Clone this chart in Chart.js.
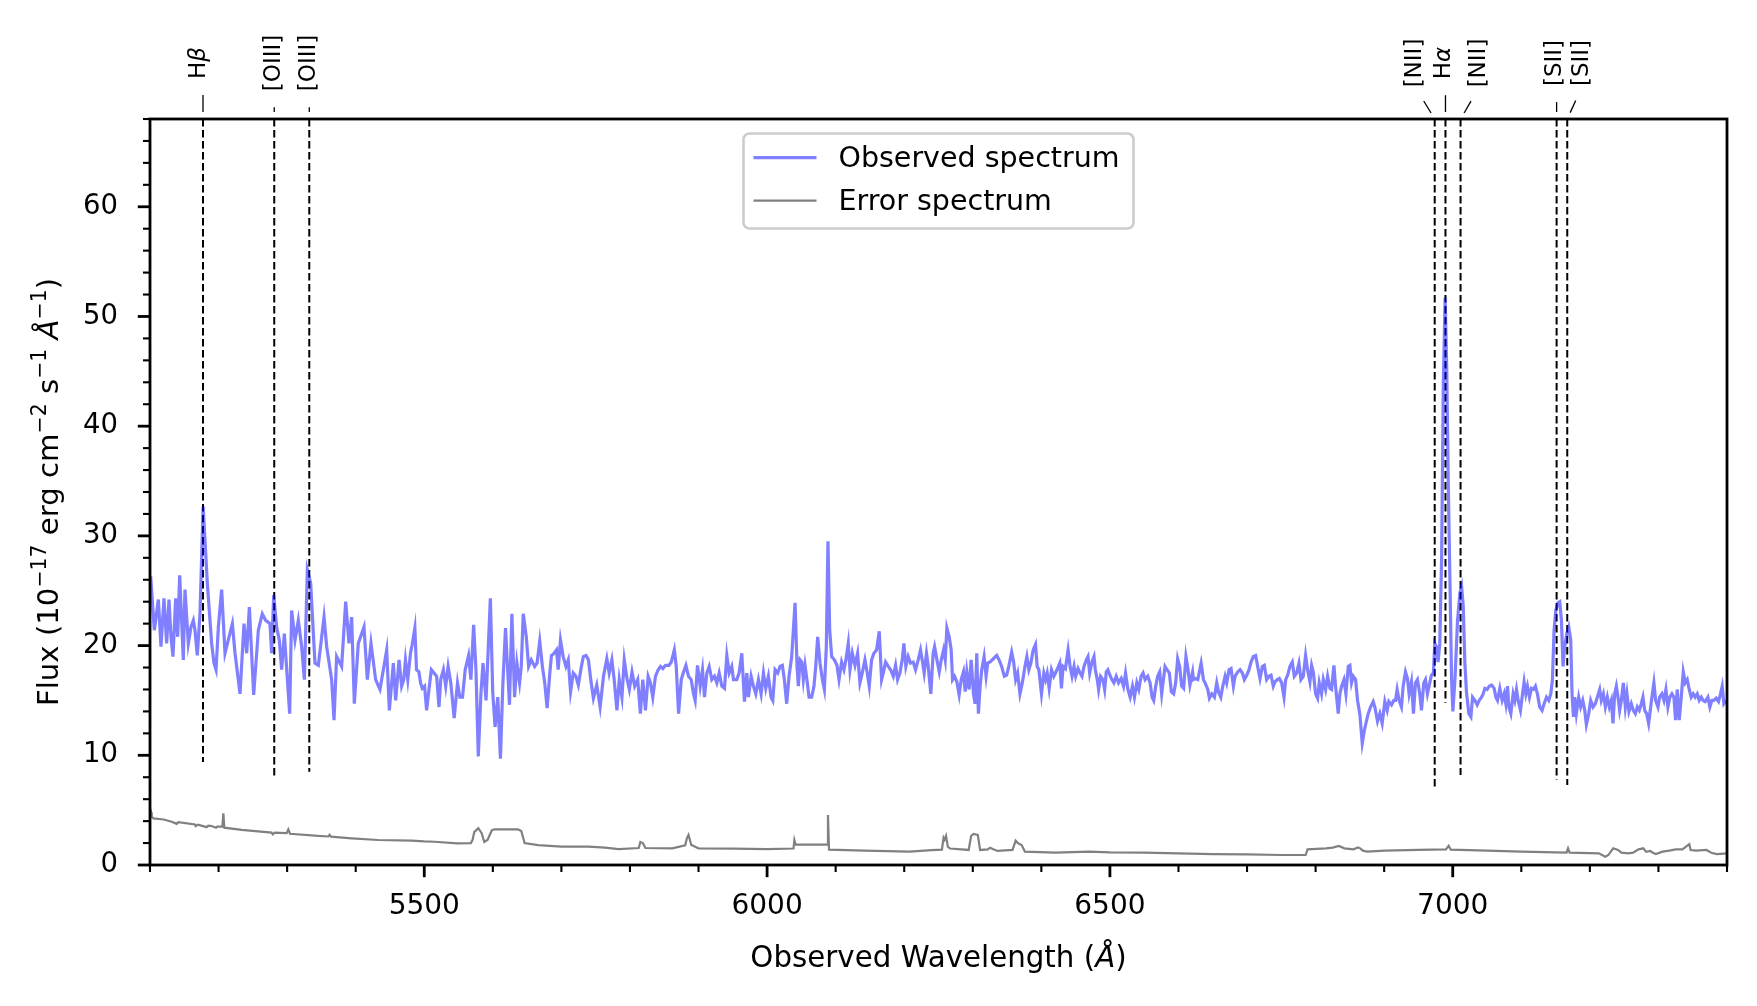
<!DOCTYPE html>
<html>
<head>
<meta charset="utf-8">
<script src="https://cdn.jsdelivr.net/npm/chart.js@4.4.1/dist/chart.umd.min.js"></script>
<style>
  html, body { margin: 0; padding: 0; background: #fff; }
  canvas { display: block; }
</style>
</head>
<body>
<canvas id="spec" width="1757" height="1006" style="width:1757px;height:1006px"></canvas>
<script>
// observed spectrum (wavelength in A, flux in 1e-17 erg/cm2/s/A)
var obsWave = [
  5101.0, 5106.3, 5112.2, 5116.0, 5120.4, 5124.3, 5127.7, 5130.6, 5133.5, 5137.4,
  5140.4, 5143.3, 5148.6, 5151.0, 5155.9, 5159.8, 5163.2, 5165.6, 5169.0, 5172.9,
  5177.5, 5183.6, 5189.9, 5193.3, 5196.3, 5199.7, 5204.5, 5209.4, 5220.1, 5224.0,
  5231.3, 5237.1, 5241.0, 5244.9, 5251.2, 5258.0, 5263.8, 5268.7, 5275.0, 5277.4,
  5280.4, 5284.7, 5288.6, 5292.0, 5295.9, 5303.7, 5306.6, 5311.5, 5316.3, 5321.2,
  5325.1, 5329.5, 5334.3, 5340.6, 5345.5, 5353.8, 5357.7, 5364.9, 5368.4, 5372.2,
  5379.5, 5385.4, 5390.2, 5394.1, 5398.0, 5403.8, 5412.1, 5417.0, 5422.3, 5429.1,
  5435.4, 5445.2, 5449.1, 5454.9, 5458.3, 5463.2, 5467.0,
  5470.1, 5472.6, 5476.0, 5479.9, 5482.4, 5486.3, 5488.7, 5492.2, 5494.6, 5497.1,
  5500.5, 5503.4, 5506.9, 5510.3, 5514.2, 5518.1, 5521.5, 5524.0, 5527.9, 5531.3,
  5534.8, 5538.7, 5543.6, 5548.5, 5551.9, 5555.8, 5559.7, 5564.6, 5568.0, 5572.0,
  5575.4, 5578.8, 5582.7, 5585.7, 5590.1, 5596.4, 5599.9, 5603.3, 5607.2, 5611.1,
  5614.5, 5618.5, 5624.3, 5627.8, 5631.7, 5635.1, 5639.0, 5641.5, 5644.4, 5648.8,
  5652.2, 5656.1, 5661.0, 5664.5, 5668.4, 5672.3, 5675.7, 5679.2, 5683.1, 5685.5,
  5689.4, 5692.9, 5695.3, 5698.7, 5702.6, 5706.6, 5710.0, 5713.4, 5717.3, 5721.2,
  5724.7, 5728.6, 5732.0, 5735.9, 5739.4, 5742.8, 5746.7, 5751.6, 5756.5, 5761.4,
  5766.3, 5769.7, 5773.6, 5777.0, 5781.0, 5784.4, 5788.3, 5791.7, 5795.6, 5799.1,
  5803.0, 5806.9, 5811.3, 5815.2, 5818.7, 5822.6, 5826.5, 5829.9, 5833.3, 5837.2,
  5841.2, 5844.6, 5848.0, 5851.9, 5856.8, 5860.3, 5864.7,
  5867.5, 5870.9, 5874.8, 5878.2, 5881.6, 5885.4, 5889.3, 5892.7, 5895.1, 5898.5,
  5902.4, 5905.8, 5908.7, 5912.1, 5915.5, 5919.4, 5923.3, 5926.7, 5930.1, 5934.0,
  5937.9, 5941.3, 5944.7, 5948.5, 5951.0, 5955.8, 5959.2, 5963.1, 5967.0, 5970.4,
  5972.8, 5976.7, 5980.1, 5983.5, 5987.4, 5991.3, 5994.7, 5998.1, 6001.9, 6005.8,
  6008.3, 6011.7, 6015.5, 6018.9, 6022.3, 6025.2, 6028.6, 6032.0, 6035.9, 6038.3,
  6040.8, 6043.7, 6045.6, 6048.1, 6050.5, 6052.9, 6055.3, 6058.7, 6061.2, 6065.0,
  6068.4, 6070.9, 6073.8, 6077.2, 6080.6, 6083.5, 6086.4, 6088.8, 6091.3, 6094.2,
  6098.1, 6101.9, 6104.9, 6108.7, 6112.1, 6115.0, 6118.4, 6120.9, 6124.3, 6128.2,
  6132.0, 6135.4, 6138.8, 6142.7, 6146.1, 6149.0, 6152.4, 6155.8, 6159.7, 6163.6,
  6167.0, 6169.4, 6172.8, 6176.7, 6180.1, 6184.0, 6187.4, 6190.3, 6193.7, 6197.1,
  6199.5, 6202.4, 6205.8, 6209.2, 6213.1, 6216.5, 6220.4, 6223.8, 6226.7, 6229.1,
  6232.5, 6234.9, 6238.8, 6242.2,
  6244.3, 6247.7, 6251.1, 6254.0, 6257.4, 6259.8, 6262.2, 6265.6, 6268.5, 6270.5,
  6273.4, 6276.8, 6280.1, 6283.1, 6286.4, 6288.9, 6291.3, 6294.7, 6297.6, 6301.0,
  6303.4, 6305.8, 6308.2, 6310.7, 6313.1, 6316.5, 6319.4, 6321.8, 6325.2, 6330.0,
  6334.9, 6338.3, 6342.1, 6346.0, 6349.4, 6352.8, 6356.7, 6359.6, 6362.5, 6365.4,
  6368.8, 6372.2, 6376.1, 6378.9, 6381.8, 6384.7, 6388.1, 6391.5, 6393.9, 6396.4,
  6400.2, 6403.6, 6406.1, 6408.5, 6411.4, 6414.8, 6418.2, 6420.6, 6423.5, 6426.9,
  6429.3, 6431.7, 6435.1, 6439.0, 6441.9, 6444.8, 6447.7, 6450.1, 6453.5, 6456.4,
  6459.3, 6462.2, 6465.6, 6468.0, 6470.5, 6473.8, 6476.8, 6478.7, 6481.6, 6483.5,
  6486.4, 6489.8, 6492.3, 6494.7, 6497.1, 6500.0, 6502.9, 6505.8, 6509.2, 6512.6,
  6516.5, 6519.9, 6522.8, 6526.2, 6529.5, 6532.9, 6535.8, 6539.2, 6542.1, 6545.5,
  6548.4, 6551.3, 6555.2, 6558.6, 6561.5, 6563.9, 6566.8, 6569.7, 6572.6, 6575.5,
  6578.0, 6580.4, 6583.3, 6586.7, 6589.6, 6593.0, 6595.9, 6598.8, 6601.7, 6604.6,
  6607.5, 6610.9, 6613.3, 6616.7, 6620.6,
  6621.8, 6624.3, 6628.2, 6630.1, 6633.0, 6636.4, 6638.8, 6642.7, 6645.1, 6648.5,
  6652.4, 6655.8, 6658.3, 6661.7, 6664.6, 6668.0, 6670.4, 6673.8, 6676.7, 6680.1,
  6682.5, 6686.4, 6689.8, 6693.2, 6696.1, 6699.5, 6702.9, 6705.8, 6709.2, 6712.6,
  6715.5, 6718.9, 6722.3, 6725.2, 6728.6, 6732.0, 6735.0, 6738.3, 6740.8, 6744.2,
  6747.1, 6750.5, 6753.9, 6756.3, 6759.2, 6762.6, 6766.0, 6768.9, 6772.3, 6775.7,
  6778.6, 6782.0, 6785.4, 6788.3, 6791.7, 6794.2, 6796.6, 6800.0, 6802.9, 6805.3,
  6808.7, 6811.2, 6814.6, 6817.5, 6820.9, 6823.3, 6826.7, 6829.1, 6833.0, 6835.4,
  6837.9, 6841.3, 6844.2, 6847.6, 6850.0, 6852.4, 6854.9, 6858.3, 6861.2, 6864.6,
  6868.0, 6870.9, 6873.3, 6876.7, 6880.1, 6884.0, 6886.4, 6890.3, 6893.7, 6897.1,
  6901.0, 6904.4, 6906.8, 6910.7, 6914.1, 6916.5, 6918.9, 6921.8, 6925.2, 6927.7,
  6931.1, 6934.0, 6936.4, 6939.8, 6942.7, 6945.6, 6948.5, 6951.9, 6954.4, 6957.8,
  6960.2, 6963.1, 6966.5, 6968.9, 6971.8, 6973.8, 6976.2, 6978.6, 6981.1,
  6983.8, 6986.3, 6988.9, 6991.3, 6993.4, 6995.9, 6998.3, 7000.2, 7003.2, 7007.0,
  7010.4, 7012.9, 7015.3, 7017.7, 7020.1,
  7023.5, 7026.5, 7028.9, 7032.3, 7035.7, 7038.6, 7042.0, 7044.4, 7046.8, 7050.2,
  7053.2, 7056.6, 7060.4, 7062.9, 7065.3, 7068.7, 7072.1, 7075.0, 7077.4, 7079.9,
  7081.8, 7084.7, 7088.1, 7090.5, 7093.0, 7095.4, 7098.8, 7101.2, 7104.1, 7106.6,
  7109.0, 7111.9, 7114.8, 7117.7, 7120.6, 7123.5, 7126.9, 7130.3, 7133.3, 7136.7,
  7140.0, 7143.0, 7145.4, 7147.8, 7150.2, 7153.6, 7156.1, 7158.5, 7160.9, 7163.3,
  7166.3, 7169.2, 7172.1, 7174.0, 7176.0, 7177.9, 7180.3, 7183.7, 7186.6, 7189.6,
  7192.5, 7194.9, 7198.3, 7201.2, 7204.6, 7208.0, 7210.9, 7214.3, 7216.7, 7219.7,
  7222.6, 7225.5, 7228.4, 7231.3, 7233.7, 7236.2, 7238.6, 7241.0, 7243.4, 7245.9,
  7248.8, 7251.7, 7254.1, 7257.0, 7260.4, 7263.3, 7266.3, 7269.2, 7272.1, 7275.0,
  7277.4, 7279.9, 7282.8, 7285.7, 7288.1, 7290.5, 7293.4, 7295.9, 7299.3, 7301.7,
  7305.1, 7308.0, 7310.9, 7313.8, 7316.7, 7319.7, 7322.6, 7325.0, 7327.4, 7330.3,
  7333.3, 7336.2, 7339.1, 7342.0, 7344.9, 7347.8, 7350.7, 7353.6, 7356.6, 7359.5,
  7362.4, 7365.3, 7368.2, 7372.1, 7375.0, 7377.9, 7380.8, 7384.2, 7387.6, 7390.5,
  7393.0, 7395.4, 7398.8
];
var obsFlux = [
  26.3, 21.4, 24.2, 19.9, 24.3, 20.2, 24.2, 20.8, 19.0, 24.3,
  20.8, 26.4, 18.7, 25.1, 20.2, 21.7, 22.3, 21.4, 19.1, 22.9,
  32.7, 25.7, 20.2, 18.4, 17.8, 21.7, 25.1, 19.3, 22.0, 19.3,
  15.6, 22.0, 19.3, 23.5, 15.5, 21.4, 22.9, 22.3, 22.0, 19.3,
  24.6, 21.7, 20.5, 17.8, 21.1, 13.8, 23.2, 20.5, 22.3, 19.9,
  16.9, 26.9, 25.7, 18.4, 18.2, 22.6, 19.9, 16.9, 13.2, 19.0,
  18.1, 24.0, 20.2, 22.6, 14.7, 20.2, 21.7, 16.9, 20.2, 16.9,
  16.0, 19.6, 14.1, 18.4, 15.0, 18.7, 16.3,
  16.9, 18.7, 16.9, 19.3, 20.1, 21.6, 17.8, 17.6, 16.6, 16.1,
  16.3, 14.1, 16.0, 17.8, 17.5, 17.2, 14.4, 16.9, 17.8, 16.3,
  18.1, 16.6, 13.4, 16.6, 15.3, 15.3, 17.8, 19.1, 16.9, 21.9,
  17.8, 9.9, 15.7, 18.4, 15.0, 24.3, 15.7, 12.6, 15.3, 9.7,
  16.3, 21.6, 14.6, 22.9, 15.3, 18.4, 16.6, 18.1, 22.9, 20.8,
  18.1, 18.7, 18.1, 18.4, 20.4, 18.1, 16.6, 14.3, 17.5, 19.1,
  19.3, 19.6, 17.8, 20.5, 19.0, 18.1, 18.7, 15.8, 17.5, 17.2,
  16.4, 17.9, 19.0, 19.1, 18.7, 16.9, 15.2, 16.4, 14.4, 17.2,
  18.8, 17.5, 18.7, 16.9, 14.1, 16.9, 15.3, 18.7, 17.0, 16.0,
  17.6, 16.3, 16.9, 13.8, 16.9, 14.1, 17.2, 16.6, 15.3, 17.2,
  17.8, 18.1, 17.9, 18.2, 18.2, 18.5, 19.6,
  18.1, 13.8, 16.9, 17.6, 18.2, 17.2, 16.9, 15.6, 15.0, 18.2,
  16.3, 17.8, 15.3, 17.5, 18.1, 16.9, 17.2, 16.6, 17.5, 16.3,
  16.1, 19.1, 17.5, 18.1, 16.9, 16.9, 17.5, 19.3, 14.9, 17.5,
  15.3, 17.2, 16.3, 15.6, 16.9, 15.6, 17.5, 16.1, 17.2, 15.3,
  15.0, 17.8, 17.5, 18.1, 18.2, 16.9, 14.7, 17.2, 19.0, 21.4,
  23.9, 18.1, 16.3, 18.7, 18.5, 16.9, 18.2, 16.6, 15.3, 15.3,
  16.3, 18.1, 20.8, 18.4, 16.9, 16.0, 19.9, 29.5, 21.4, 19.0,
  18.7, 18.2, 16.9, 18.5, 17.8, 18.7, 20.2, 17.8, 19.3, 18.2,
  19.3, 16.6, 17.5, 18.7, 17.5, 16.3, 18.7, 19.3, 19.6, 21.3,
  16.9, 17.5, 18.5, 18.1, 17.8, 17.2, 18.2, 16.9, 17.5, 18.7,
  20.2, 18.1, 19.0, 18.4, 18.5, 17.8, 18.7, 19.6, 18.5, 17.5,
  19.3, 18.2, 15.6, 19.3,
  19.9, 18.7, 17.6, 18.7, 19.6, 18.7, 21.6, 20.8, 19.6, 16.9,
  17.2, 16.7, 15.5, 16.9, 17.6, 15.8, 17.6, 16.0, 18.7, 15.6,
  14.7, 19.3, 13.8, 16.3, 17.8, 19.0, 17.2, 18.4, 18.5, 18.8,
  19.1, 18.7, 18.1, 17.2, 17.3, 18.2, 19.4, 18.5, 16.9, 17.5,
  15.6, 16.6, 18.1, 19.0, 17.8, 18.4, 19.6, 20.1, 18.1, 17.8,
  15.6, 17.5, 16.9, 17.5, 16.1, 17.8, 17.2, 17.5, 17.9, 18.4,
  16.1, 18.1, 17.9, 19.6, 18.1, 17.2, 18.1, 17.2, 17.9, 17.5,
  17.2, 18.1, 18.7, 19.0, 17.5, 18.5, 19.0, 17.8, 16.9, 16.0,
  17.2, 16.9, 16.0, 17.6, 17.8, 17.3, 16.9, 16.6, 17.2, 16.6,
  17.0, 16.3, 17.5, 16.0, 15.3, 16.3, 15.3, 16.6, 16.0, 17.2,
  17.5, 16.9, 17.2, 16.6, 15.3, 15.0, 16.3, 17.2, 17.6, 15.6,
  16.9, 18.1, 17.8, 17.5, 15.8, 15.6, 16.6, 18.8, 18.1, 16.3,
  16.1, 19.0, 18.1, 16.4, 17.6,
  16.9, 17.0, 16.9, 17.5, 18.4, 16.9, 16.6, 16.0, 15.2, 15.6,
  15.3, 16.6, 15.8, 15.3, 16.3, 17.2, 16.6, 17.8, 17.9, 16.3,
  17.2, 17.6, 17.8, 17.5, 16.9, 17.3, 17.8, 18.5, 19.0, 19.1,
  18.1, 17.0, 18.1, 18.2, 16.9, 17.2, 17.3, 16.3, 16.7, 16.9,
  17.0, 16.6, 15.3, 16.9, 17.3, 18.1, 18.5, 17.2, 17.5, 18.4,
  16.9, 17.2, 19.1, 17.8, 16.7, 18.2, 17.6, 15.6, 15.2, 16.6,
  15.6, 16.9, 16.0, 17.2, 16.1, 16.0, 18.2, 16.3, 13.8, 15.6,
  16.3, 16.9, 15.6, 18.1, 18.2, 16.6, 17.2, 16.9, 15.0, 13.7,
  11.1, 12.2, 12.9, 13.8, 14.4, 14.9, 14.4, 13.1, 13.8, 12.9,
  14.9, 14.1, 14.9, 14.6, 15.0, 15.0, 16.0, 15.0, 14.4, 16.3,
  17.6, 17.0, 15.6, 16.7, 13.8, 16.6, 16.9, 15.6, 14.1, 16.6,
  16.9, 15.6, 16.6, 17.3, 17.5, 20.2, 19.9, 18.5, 20.2,
  28.0, 44.0, 51.7, 45.0, 35.0, 26.0, 16.9, 14.0, 16.9, 22.3,
  24.8, 25.4, 23.6, 18.4, 15.7,
  13.8, 13.5, 15.3, 15.0, 14.6, 15.0, 15.3, 15.6, 16.1, 16.0,
  16.3, 16.4, 16.1, 15.3, 15.0, 16.1, 15.0, 15.6, 14.7, 16.3,
  14.4, 13.8, 15.6, 15.0, 16.0, 15.0, 14.1, 15.3, 16.7, 15.6,
  16.3, 15.3, 16.1, 16.0, 16.3, 15.6, 14.4, 14.1, 14.7, 15.3,
  15.0, 15.6, 16.9, 21.4, 23.2, 23.9, 24.0, 22.3, 18.1, 19.9,
  21.1, 21.7, 20.5, 15.6, 13.5, 15.3, 13.8, 15.3, 14.4, 15.0,
  14.1, 12.8, 13.8, 15.0, 14.4, 14.7, 15.3, 16.0, 15.0, 15.6,
  14.4, 15.3, 14.4, 15.0, 12.9, 15.6, 16.3, 15.3, 14.1, 15.0,
  16.6, 14.4, 15.6, 14.0, 14.7, 14.1, 13.8, 14.4, 14.1, 14.7,
  15.3, 14.1, 13.8, 12.9, 14.1, 15.3, 16.6, 15.0, 14.4, 15.3,
  15.6, 15.0, 16.0, 14.4, 15.3, 15.6, 15.3, 13.2, 16.0, 13.2,
  15.3, 17.6, 16.6, 16.9, 16.0, 15.3, 15.6, 15.3, 15.6, 15.0,
  15.3, 15.0, 14.9, 15.3, 14.4, 15.0, 15.0, 15.2, 14.9, 15.6,
  16.3, 14.7, 15.0
];

// error spectrum
var errWave = [
  5100.0, 5101.5, 5102.5, 5105.0, 5120.0, 5131.6, 5138.9, 5141.3, 5165.6, 5166.6,
  5170.0, 5182.6, 5185.0, 5189.9, 5196.3, 5198.0, 5205.5, 5207.0, 5208.4, 5233.7,
  5277.4, 5279.0, 5282.0, 5299.3, 5301.7, 5304.2, 5345.5, 5360.0, 5362.0, 5364.0,
  5394.1, 5433.0, 5481.6, 5500.0, 5515.0, 5548.5, 5568.0, 5570.5, 5572.9, 5578.8,
  5583.7, 5587.6, 5592.5, 5598.4, 5602.3, 5617.0, 5636.6, 5641.5, 5646.4, 5665.9,
  5700.2, 5739.4, 5763.8, 5783.4, 5812.8, 5815.2, 5818.7, 5822.6, 5861.7, 5880.6,
  5883.0, 5885.4, 5889.3, 5895.0, 5900.0, 5950.0, 6000.0, 6038.5, 6039.8, 6041.7,
  6060.0, 6087.8, 6088.8, 6090.3, 6142.0, 6208.0, 6240.0, 6255.0, 6257.4, 6259.0,
  6261.0, 6263.7, 6267.0, 6294.0, 6297.6, 6301.0, 6307.3, 6310.7, 6322.0, 6325.2,
  6330.0, 6336.0, 6358.0, 6362.5, 6366.0, 6371.2, 6376.0, 6420.0, 6470.0, 6500.0,
  6550.0, 6600.0, 6650.0, 6700.0, 6750.0, 6785.4, 6788.3, 6815.0, 6825.0, 6833.9,
  6842.0, 6854.9, 6862.0, 6865.0, 6869.0, 6875.0, 6901.0, 6950.0, 6990.0, 6994.0,
  6997.0, 7050.0, 7100.0, 7150.0, 7166.0, 7168.2, 7170.5, 7213.0, 7222.6, 7227.0,
  7234.0, 7241.0, 7246.0, 7256.0, 7263.0, 7271.0, 7278.0, 7282.0, 7288.0, 7292.0,
  7296.0, 7306.0, 7316.0, 7325.0, 7335.0, 7345.0, 7347.0, 7355.0, 7370.0, 7377.0,
  7385.0, 7400.0
];
var errFlux = [
  4.6, 4.8, 4.4, 4.25, 4.15, 3.95, 3.75, 3.9, 3.7, 3.55,
  3.68, 3.45, 3.58, 3.55, 3.4, 3.5, 3.5, 4.7, 3.4, 3.2,
  2.95, 2.8, 2.95, 2.9, 3.25, 2.85, 2.65, 2.6, 2.75, 2.58,
  2.43, 2.28, 2.22, 2.15, 2.12, 1.98, 2.0, 2.3, 3.0, 3.35,
  2.9, 2.1, 2.3, 3.15, 3.25, 3.25, 3.25, 3.1, 2.0, 1.82,
  1.67, 1.67, 1.58, 1.45, 1.55, 2.1, 2.0, 1.55, 1.52, 1.8,
  2.43, 2.75, 1.85, 1.67, 1.52, 1.5, 1.45, 1.5, 2.28, 1.85,
  1.85, 1.85, 4.56, 1.4, 1.31, 1.22, 1.35, 1.4, 2.5, 2.3,
  2.65, 1.65, 1.5, 1.37, 2.64, 2.83, 2.75, 1.37, 1.43, 1.58,
  1.43, 1.28, 1.37, 2.22, 1.98, 1.82, 1.22, 1.12, 1.22, 1.15,
  1.12, 1.06, 1.0, 0.97, 0.91, 0.91, 1.43, 1.52, 1.58, 1.73,
  1.52, 1.43, 1.6, 1.52, 1.31, 1.22, 1.31, 1.37, 1.43, 1.75,
  1.4, 1.31, 1.22, 1.15, 1.12, 1.52, 1.12, 1.06, 0.76, 0.91,
  1.52, 1.37, 1.12, 1.06, 1.12, 1.43, 1.52, 1.2, 1.28, 1.12,
  1.0, 1.22, 1.31, 1.43, 1.43, 1.91, 1.37, 1.31, 1.37, 1.12,
  1.0, 1.06
];

// marked emission lines (observed wavelength) and where their dashed marker ends
var lineWave = [5177.3, 5281.2, 5332.3, 6973.7, 6989.4, 7011.4, 7151.5, 7167.0];
var lineName = ['H\u03b2', '[OIII]', '[OIII]', '[NII]', 'H\u03b1', '[NII]', '[SII]', '[SII]'];
var lineLow = [9.4, 7.9, 8.5, 6.9, 14.8, 8.2, 7.8, 7.3];

var xTickLabels = [5500, 6000, 6500, 7000];
var yTickLabels = [0, 10, 20, 30, 40, 50, 60];
var xRange = [5100, 7400];
var yRange = [0, 68];

// label placement (pixels, sideways shift of each line name)
var labelShift = [-3.5, 0, 0, -19.3, -1.5, 18.5, -1.8, 15.2];

var FONT = 'DejaVu Sans';

function toPoints(xs, ys) {
  return xs.map(function (v, i) { return {x: v, y: ys[i]}; });
}

function fontStr(size, italic) {
  return (italic ? 'italic ' : '') + size + 'px "' + FONT + '"';
}

// draws a list of text runs (plain / italic / superscript) starting at x, on baseline y
function drawRuns(ctx, runs, size, x, y, align) {
  var w = 0;
  runs.forEach(function (r) {
    ctx.font = fontStr(r.sup ? size * 0.7 : size, r.it);
    r.w = ctx.measureText(r.t).width;
    w += r.w;
  });
  var cx = align === 'center' ? x - w / 2 : x;
  ctx.textAlign = 'left';
  runs.forEach(function (r) {
    ctx.font = fontStr(r.sup ? size * 0.7 : size, r.it);
    ctx.fillText(r.t, cx, r.sup ? y - size * 0.42 : y);
    cx += r.w;
  });
  return w;
}

function nameRuns(s) {
  return Array.from(s).map(function (ch) {
    return {t: ch, it: /[\u03b1-\u03c9]/.test(ch)};
  });
}

var frame = {
  id: 'frame',
  afterDraw: function (chart) {
    var ctx = chart.ctx, a = chart.chartArea;
    var xs = chart.scales.x, ys = chart.scales.y;
    ctx.save();
    ctx.strokeStyle = '#000';
    // x ticks
    for (var v = xRange[0]; v <= xRange[1]; v += 100) {
      var major = xTickLabels.indexOf(v) >= 0;
      var px = xs.getPixelForValue(v);
      ctx.lineWidth = major ? 2.8 : 2.1;
      ctx.beginPath();
      ctx.moveTo(px, a.bottom);
      ctx.lineTo(px, a.bottom + (major ? 12.2 : 7));
      ctx.stroke();
    }
    // y ticks
    for (var w = yRange[0]; w <= yRange[1]; w += 2) {
      var maj = yTickLabels.indexOf(w) >= 0;
      var py = ys.getPixelForValue(w);
      ctx.lineWidth = maj ? 2.8 : 2.1;
      ctx.beginPath();
      ctx.moveTo(a.left, py);
      ctx.lineTo(a.left - (maj ? 12.2 : 7), py);
      ctx.stroke();
    }
    ctx.lineWidth = 2.8;
    ctx.strokeRect(a.left, a.top, a.right - a.left, a.bottom - a.top);

    // axis titles
    ctx.fillStyle = '#000';
    ctx.textBaseline = 'alphabetic';
    drawRuns(ctx, [{t: 'Observed Wavelength ('}, {t: '\u00c5', it: true}, {t: ')'}],
      29.3, (a.left + a.right) / 2, 967, 'center');

    ctx.save();
    ctx.translate(58, (a.top + a.bottom) / 2);
    ctx.rotate(-Math.PI / 2);
    drawRuns(ctx, [
      {t: 'Flux (10'}, {t: '\u221217', sup: true}, {t: ' erg cm'}, {t: '\u22122', sup: true},
      {t: ' s'}, {t: '\u22121', sup: true}, {t: ' '}, {t: '\u00c5', it: true},
      {t: '\u22121', sup: true}, {t: ')'}
    ], 29.2, 0, 0, 'center');
    ctx.restore();
    ctx.restore();
  }
};

var lineMarks = {
  id: 'lineMarks',
  beforeDatasetsDraw: function (chart) {
    var ctx = chart.ctx, xs = chart.scales.x, ys = chart.scales.y;
    ctx.save();
    ctx.strokeStyle = '#000';
    ctx.lineWidth = 2;
    ctx.setLineDash([7.5, 3.5]);
    lineWave.forEach(function (lw, i) {
      var px = xs.getPixelForValue(lw);
      ctx.beginPath();
      ctx.moveTo(px, ys.getPixelForValue(yRange[1]));
      ctx.lineTo(px, ys.getPixelForValue(lineLow[i]));
      ctx.stroke();
    });
    ctx.restore();
  },
  afterDraw: function (chart) {
    var ctx = chart.ctx, xs = chart.scales.x, a = chart.chartArea;
    var size = 23, cy = 63;
    ctx.save();
    ctx.fillStyle = '#000';
    ctx.strokeStyle = '#000';
    ctx.lineWidth = 1.3;
    lineWave.forEach(function (lw, i) {
      var px = xs.getPixelForValue(lw);
      var lx = px + labelShift[i];
      ctx.save();
      ctx.translate(lx, cy);
      ctx.rotate(-Math.PI / 2);
      ctx.textBaseline = 'middle';
      var tw = drawRuns(ctx, nameRuns(lineName[i]), size, 0, 0, 'center');
      ctx.restore();
      // connector from the label toward the line top (straight down when the label sits on the line)
      var x0 = Math.abs(labelShift[i]) < 4 ? px : lx;
      var y0 = cy + tw / 2, x1 = px, y1 = a.top;
      var len = Math.hypot(x1 - x0, y1 - y0);
      var ux = (x1 - x0) / len, uy = (y1 - y0) / len;
      ctx.beginPath();
      ctx.moveTo(x0 + ux * 16, y0 + uy * 16);
      ctx.lineTo(x1 - ux * 7, y1 - uy * 7);
      ctx.stroke();
    });
    ctx.restore();
  }
};

var legendBox = {
  id: 'legendBox',
  afterDraw: function (chart) {
    var ctx = chart.ctx, a = chart.chartArea;
    var sets = chart.data.datasets;
    var size = 28.5;
    ctx.save();
    ctx.font = fontStr(size);
    var tw = 0;
    sets.forEach(function (d) { tw = Math.max(tw, ctx.measureText(d.label).width); });
    var w = 10 + 63 + 22 + tw + 14, h = 95;
    var left = (a.left + a.right) / 2 - w / 2, top = a.top + 14.5;
    ctx.beginPath();
    ctx.roundRect(left, top, w, h, 6);
    ctx.fillStyle = 'rgba(255,255,255,0.8)';
    ctx.fill();
    ctx.strokeStyle = '#cccccc';
    ctx.lineWidth = 2.6;
    ctx.stroke();
    sets.forEach(function (d, i) {
      var rowY = top + 24.2 + i * 43;
      ctx.strokeStyle = d.borderColor;
      ctx.lineWidth = d.borderWidth;
      ctx.beginPath();
      ctx.moveTo(left + 10, rowY);
      ctx.lineTo(left + 73, rowY);
      ctx.stroke();
      ctx.fillStyle = '#000';
      ctx.textBaseline = 'alphabetic';
      ctx.textAlign = 'left';
      ctx.fillText(d.label, left + 95, rowY + 9.6);
    });
    ctx.restore();
  }
};

Chart.defaults.font.family = FONT;

new Chart(document.getElementById('spec'), {
  type: 'line',
  data: {
    datasets: [
      {
        label: 'Observed spectrum',
        data: toPoints(obsWave, obsFlux),
        borderColor: 'rgba(0,0,255,0.5)',
        borderWidth: 3.2,
        pointRadius: 0,
        tension: 0,
        fill: false
      },
      {
        label: 'Error spectrum',
        data: toPoints(errWave, errFlux),
        borderColor: 'rgb(128,128,128)',
        borderWidth: 2.2,
        pointRadius: 0,
        tension: 0,
        fill: false
      }
    ]
  },
  options: {
    responsive: false,
    devicePixelRatio: 1,
    animation: false,
    events: [],
    layout: {padding: {left: 0, right: 30, top: 119, bottom: 0}},
    plugins: {legend: {display: false}, tooltip: {enabled: false}, title: {display: false}},
    scales: {
      x: {
        type: 'linear',
        min: xRange[0],
        max: xRange[1],
        grid: {display: false, drawTicks: false},
        border: {display: false},
        afterBuildTicks: function (s) { s.ticks = xTickLabels.map(function (v) { return {value: v}; }); },
        afterFit: function (s) { s.height = 141; },
        ticks: {
          autoSkip: false, maxRotation: 0, minRotation: 0, padding: 25,
          color: '#000', font: {size: 28, family: FONT},
          callback: function (v) { return String(v); }
        }
      },
      y: {
        type: 'linear',
        min: yRange[0],
        max: yRange[1],
        grid: {display: false, drawTicks: false},
        border: {display: false},
        afterBuildTicks: function (s) { s.ticks = yTickLabels.map(function (v) { return {value: v}; }); },
        afterFit: function (s) { s.width = 150; },
        ticks: {
          autoSkip: false, padding: 32,
          color: '#000', font: {size: 27.5, family: FONT},
          callback: function (v) { return String(v); }
        }
      }
    }
  },
  plugins: [lineMarks, frame, legendBox]
});
</script>
</body>
</html>
